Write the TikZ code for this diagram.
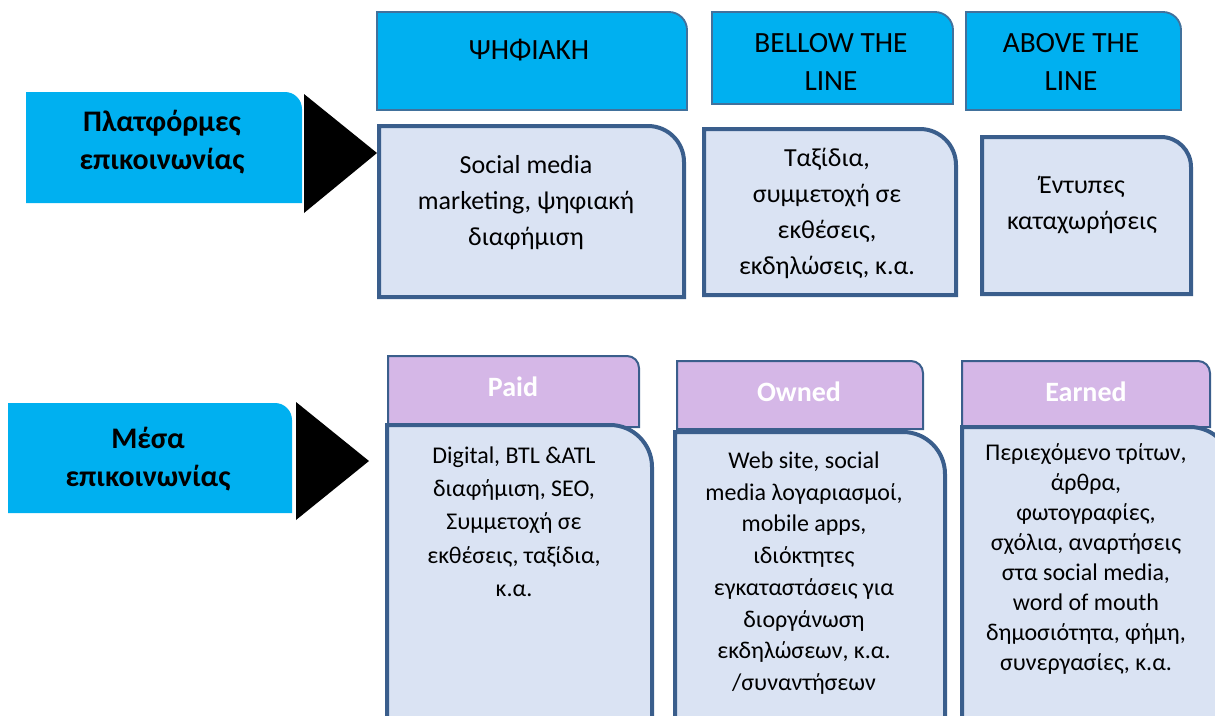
\documentclass[tikz,border=0pt]{standalone}
\usepackage{fontspec}
\setmainfont{Carlito}
\definecolor{cyanC}{HTML}{00B0F0}
\definecolor{hdrB}{HTML}{41719C}
\definecolor{boxF}{HTML}{DAE3F3}
\definecolor{boxB}{HTML}{3A5E8C}
\definecolor{purpF}{HTML}{D5B7E7}
\newcommand\rbox[6]{\path[#6] (#1,#4) -- (#1,#2) -- ({#3-#5},#2) .. controls ({#3-0.448*#5},#2) and (#3,{#2+0.448*#5}) .. (#3,{#2+#5}) -- (#3,#4) -- cycle;}
\tikzset{
  labelbox/.style={fill=cyanC},
  hdrbox/.style={fill=cyanC,draw=hdrB,line width=1.4pt},
  contbox/.style={fill=boxF,draw=boxB,line width=3pt},
  purpbox/.style={fill=purpF,draw=boxB,line width=1.5pt},
  arrowtri/.style={fill=black},
  lbltext/.style={font=\fontsize{22.4}{28.5}\selectfont\bfseries,align=center,inner sep=0pt},
  hdrtext/.style={font=\fontsize{22}{28.5}\selectfont,align=center,inner sep=0pt},
  toptext/.style={font=\fontsize{19.5}{27}\selectfont,align=center,inner sep=0pt},
  medtext/.style={font=\fontsize{21}{26}\selectfont\bfseries,text=white,align=center,inner sep=0pt},
  bottext/.style={font=\fontsize{18}{25}\selectfont,align=center,inner sep=0pt}
}
\begin{document}
\begin{tikzpicture}[x=0.75pt,y=-0.75pt]
\useasboundingbox (0,0) rectangle (1215,715);
\clip (0,0) rectangle (1215,715);
% left labels
\rbox{26}{92}{302}{203}{17}{labelbox}
\node[lbltext] (lab1) at (162,142.5) {Πλατφόρμες\\επικοινωνίας};
\rbox{8}{403}{292}{513}{17}{labelbox}
\node[lbltext] (lab2) at (148,459) {Μέσα\\επικοινωνίας};
% triangles
\path[arrowtri] (304,94) -- (377,153) -- (304,213) -- cycle;
\path[arrowtri] (296,402) -- (369,461) -- (296,520) -- cycle;
% top headers
\rbox{377}{12}{687}{110}{18}{hdrbox}
\node[hdrtext] (h1) at (529,50) {ΨΗΦΙΑΚΗ};
\rbox{712}{12}{953}{104}{18}{hdrbox}
\node[hdrtext] (h2) at (831,62) {BELLOW THE\\LINE};
\rbox{966}{12}{1181}{110}{18}{hdrbox}
\node[hdrtext] (h3) at (1071,62) {ABOVE THE\\LINE};
% top contents
\rbox{379}{126}{684}{297}{36}{contbox}
\node[toptext] (c1) at (526,202.5) {Social media\\marketing, ψηφιακή\\διαφήμιση};
\rbox{704}{129}{956}{295}{36}{contbox}
\node[toptext] (c2) at (827,213.5) {Ταξίδια,\\συμμετοχή σε\\εκθέσεις,\\εκδηλώσεις, κ.α.};
\rbox{982}{137}{1191}{294}{30}{contbox}
\node[toptext] (c3) at (1082,205.5) {Έντυπες\\καταχωρήσεις};
% purple headers
\rbox{388}{356}{639}{427}{12}{purpbox}
\rbox{677}{361}{923}{429}{12}{purpbox}
\rbox{962}{361}{1210}{427}{12}{purpbox}
% bottom contents
\rbox{387}{425}{652}{760}{42}{contbox}
\rbox{675}{432}{945}{760}{42}{contbox}
\rbox{962}{427}{1232}{760}{42}{contbox}
\node[medtext] (m1) at (513,387) {Paid};
\node[medtext] (m2) at (799,392) {Owned};
\node[medtext] (m3) at (1086,392) {Earned};
\node[bottext] (b1) at (514,521.5) {Digital, BTL \&ATL\\διαφήμιση, SEO,\\Συμμετοχή σε\\εκθέσεις, ταξίδια,\\κ.α.};
\node[bottext,font=\fontsize{18}{23.8}\selectfont] (b2) at (804,573) {Web site, social\\media λογαριασμοί,\\mobile apps,\\ιδιόκτητες\\εγκαταστάσεις για\\διοργάνωση\\εκδηλώσεων, κ.α.\\/συναντήσεων};
\node[bottext,font=\fontsize{18}{22.5}\selectfont] (b3) at (1086,559) {Περιεχόμενο τρίτων,\\άρθρα,\\φωτογραφίες,\\σχόλια, αναρτήσεις\\στα social media,\\word of mouth\\δημοσιότητα, φήμη,\\συνεργασίες, κ.α.};
\end{tikzpicture}
\end{document}
